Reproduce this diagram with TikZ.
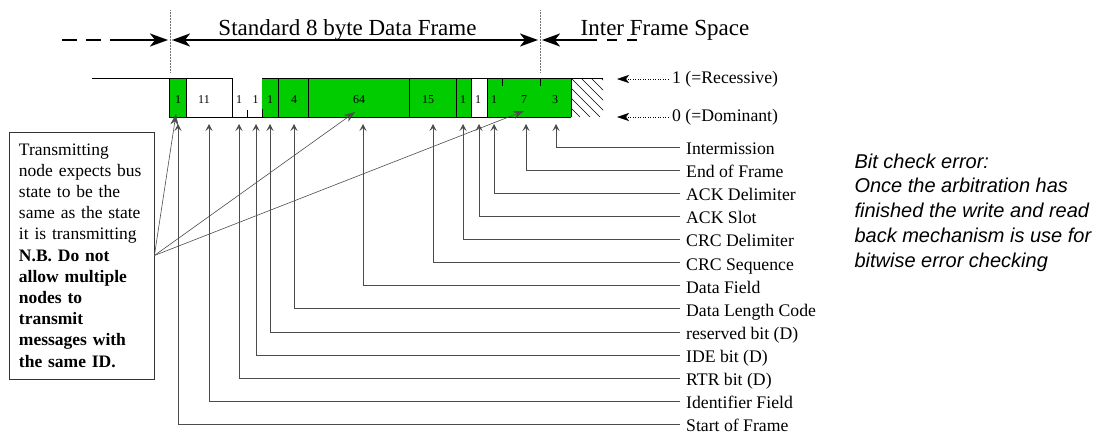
\documentclass[tikz,border=0pt]{standalone}
\usepackage{fontspec}
\setmainfont{Liberation Serif}
\newfontfamily\remarkfont{Liberation Sans}
\usetikzlibrary{arrows.meta, positioning}
\definecolor{cgreen}{RGB}{0,204,0}
\definecolor{cline}{gray}{0.3}

\begin{document}
\begin{tikzpicture}[
    x=1pt, y=-1pt,
    >=Stealth,
    field/.style={draw=black, line width=0.6pt},
    bitnum/.style={inner sep=0pt, font=\fontsize{12}{12}\selectfont},
    fieldlbl/.style={anchor=base west, inner xsep=6pt, inner ysep=0pt,
        font=\fontsize{17.7}{20}\selectfont},
    lead/.style={draw=cline, line width=0.6pt, -{Stealth[length=7pt, width=7pt, inset=3pt]}},
    callout/.style={draw=cline, line width=0.6pt, -{Stealth[length=11pt, width=8pt]}},
    dim/.style={draw=black, line width=2.2pt},
    dimhead/.style={dim, -{Stealth[length=18pt, width=13pt, inset=5pt]}},
    dimboth/.style={dim, {Stealth[length=18pt, width=13pt, inset=5pt]}-{Stealth[length=18pt, width=13pt, inset=5pt]}},
    dimgap/.style={dim, dash pattern=on 15pt off 9pt},
    guide/.style={draw=black!55, line width=0.5pt, densely dotted},
    dimlbl/.style={anchor=base, inner sep=0pt, font=\fontsize{23}{26}\selectfont},
    lvl/.style={inner xsep=4pt, font=\fontsize{17.7}{20}\selectfont},
    lvlarrow/.style={draw=black, line width=0.5pt, dotted, -{Stealth[length=12pt, width=8pt, inset=3pt]}},
    notebox/.style={draw=black!80, line width=0.8pt, minimum width=145pt, minimum height=247pt,
        text width=125pt, align=left, font=\fontsize{17.5}{21.2}\selectfont},
    remark/.style={anchor=west, align=left, font=\remarkfont\itshape\fontsize{20}{24.8}\selectfont}
]
\useasboundingbox (0,0) rectangle (1114,434);

%% Frame boundaries and the spans between them
\coordinate (sofTop) at (170,10);
\coordinate (sofBot) at (170,72);
\coordinate (ifsTop) at (540,10);
\coordinate (ifsBot) at (540,72);
\draw[guide] (sofTop) -- (sofBot);
\draw[guide] (ifsTop) -- (ifsBot);

\coordinate (prevA) at (62,40);
\coordinate (prevB) at (123,40);
\coordinate (prevC) at (168,40);
\coordinate (frmA) at (172,40);
\coordinate (frmB) at (538,40);
\coordinate (ifsA) at (542,40);
\coordinate (ifsB) at (597,40);
\coordinate (ifsC) at (641,40);
\draw[dimgap] (prevA) -- (prevB);
\draw[dimhead] (prevB) -- (prevC);
\draw[dimboth] (frmA) -- (frmB);
\draw[dimhead] (ifsB) -- (ifsA);
\draw[dimgap, dash pattern=on 10pt off 10pt, dash phase=10pt] (ifsB) -- (ifsC);
\node[dimlbl] (frmlbl) at (347.5,35) {Standard 8 byte Data Frame};
\node[dimlbl] (ifslbl) at (665,35) {Inter Frame Space};

%% Bit fields on the bus
\fill[cgreen] (169,78) rectangle (186,117);
\fill[cgreen] (262,78) rectangle (471,117);
\fill[cgreen] (487,78) rectangle (571,117);
\draw[field] (92,78) -- (169,78) -- (169,117) -- (571,117);
\draw[field] (169,78) -- (186,78);
\draw[field] (186,78) rectangle (232,117);
\draw[field] (247,117) -- (247,110);
\draw[field] (262,117) -- (262,109);
\draw[field] (262,78) -- (471,78);
\foreach \x in {278,308,409,456}
    \draw[field] (\x,78) -- (\x,117);
\draw[field] (471,78) rectangle (487,117);
\draw[field] (487,78) -- (603,78);
\foreach \x in {502,540}
    \draw[field] (\x,78) -- (\x,86);
\draw[field] (571,78) -- (571,117);
% idle bus, hatched
\begin{scope}
    \clip (571,78) rectangle (603,117);
    \foreach \k in {-40,-30,...,30}
        \draw[field, line width=0.5pt] (571+\k,78) -- (610+\k,117);
\end{scope}

%% Bit counts, leader arrows and field names
\foreach \i/\nx/\tx/\num/\name in {
    1/178/178/1/Start of Frame,
    2/204/209/11/Identifier Field,
    3/239/239/1/RTR bit (D),
    4/255.5/256/1/IDE bit (D),
    5/270/270/1/reserved bit (D),
    6/294/294/4/Data Length Code,
    7/359/363/64/Data Field,
    8/428/433/15/CRC Sequence,
    9/463/463/1/CRC Delimiter,
    10/478/479/1/ACK Slot,
    11/494/494/1/ACK Delimiter,
    12/524/526/7/End of Frame,
    13/555/556/3/Intermission}{
    \node[bitnum] (n\i) at (\nx,100) {\num};
    \coordinate (t\i) at (\tx,124);
    \coordinate (e\i) at (680,{147+23.1*(13-\i)});
    \node[fieldlbl] (l\i) at (680,{154.5+23.1*(13-\i)}) {\name};
    \draw[lead] (e\i) -| (t\i);
}

%% Bus levels
\coordinate (recTip) at (617,79);
\coordinate (domTip) at (617,117);
\node[lvl, right=51pt of recTip] (rec) {1 (=Recessive)};
\node[lvl, right=51pt of domTip] (dom) {0 (=Dominant)};
\draw[lvlarrow] (rec.west) -- (recTip);
\draw[lvlarrow] (dom.west) -- (domTip);

%% Note on the transmitting node
\node[notebox] (note) at (81.5,255.5)
    {Transmitting\\ node expects bus\\ state to be the\\ same as the state\\ it is transmitting\\
     \textbf{N.B. Do not}\\ \textbf{allow multiple}\\ \textbf{nodes to}\\ \textbf{transmit}\\
     \textbf{messages with}\\ \textbf{the same ID.}};
\coordinate (cSOF) at (176,114);
\coordinate (cData) at (355,112);
\coordinate (cEOF) at (524,111);
\draw[callout] (note.east) -- (cSOF);
\draw[callout] (note.east) -- (cData);
\draw[callout] (note.east) -- (cEOF);

%% Remark on the right
\node[remark] (remark) at (851,212.5)
    {Bit check error:\\ Once the arbitration has\\ finished the write and read\\
     back mechanism is use for\\ bitwise error checking};

\end{tikzpicture}
\end{document}
